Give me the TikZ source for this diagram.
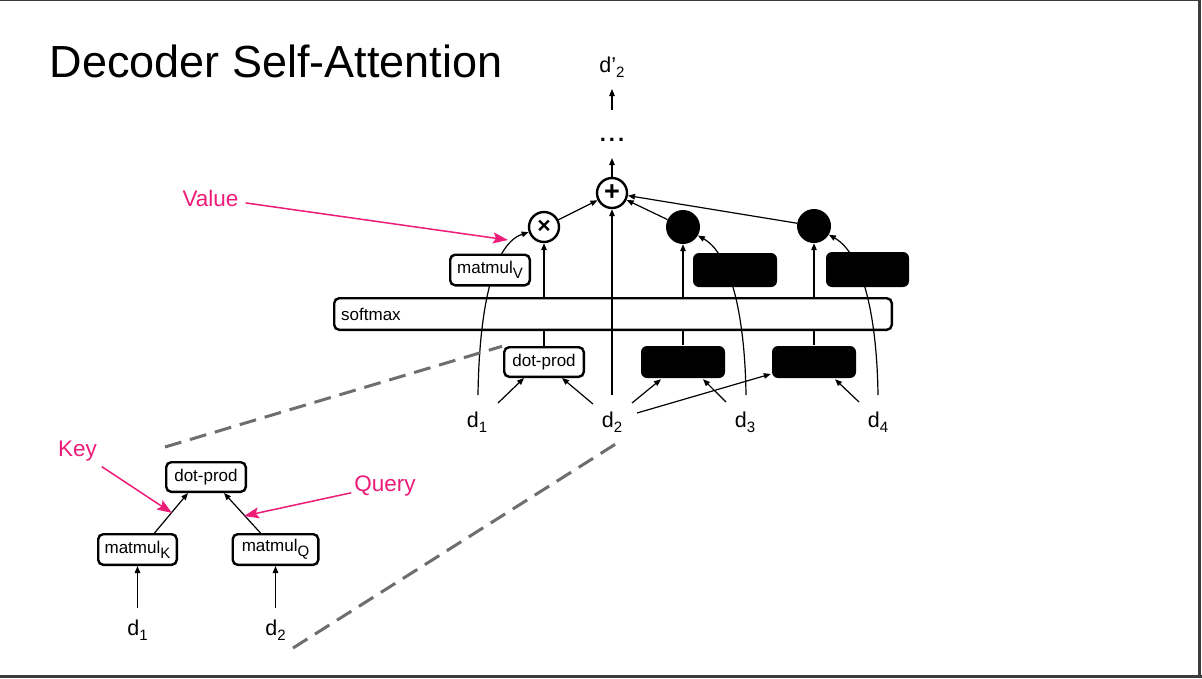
\documentclass[tikz,border=0pt]{standalone}
\usepackage{fontspec}
\setmainfont{Liberation Sans}
\usetikzlibrary{arrows.meta,calc}
\definecolor{hotpink}{RGB}{236,28,120}
\definecolor{dashgray}{RGB}{110,110,110}
\definecolor{framegray}{RGB}{60,60,60}
\newcommand\lsub[1]{\raisebox{-5pt}{\fontsize{15}{15}\selectfont #1}}
\begin{document}
\begin{tikzpicture}[x=1pt,y=-1pt,
  box/.style={draw, line width=2.4pt, rounded corners=5pt, inner sep=0pt, outer sep=1.2pt,
    font=\fontsize{17}{19}\selectfont, fill=white, minimum height=30.6pt},
  blackbox/.style={fill=black, rounded corners=6pt, inner sep=0pt, outer sep=1.2pt,
    minimum width=84pt, minimum height=32pt},
  circ/.style={circle, draw, line width=2.4pt, fill=white, inner sep=0pt, outer sep=1.2pt, minimum size=30pt},
  blackcirc/.style={circle, fill=black, inner sep=0pt, minimum size=34pt},
  lab/.style={font=\fontsize{21.5}{24}\selectfont, inner sep=0pt},
  pinklab/.style={font=\fontsize{22.5}{26}\selectfont, text=hotpink, inner sep=3pt},
  arr/.style={line width=1.2pt, -{Triangle[length=7pt,width=5.5pt]}},
  conn/.style={line width=1.2pt},
  pinkarr/.style={draw=hotpink, line width=1.5pt, -{Stealth[length=15pt,width=11pt,inset=3pt]}},
  zoomdash/.style={draw=dashgray, line width=3pt, dash pattern=on 17pt off 9pt}
]
\useasboundingbox (0,0) rectangle (1202,678);
\fill[white] (0,0) rectangle (1202,678);
% frame
\draw[framegray, line width=1.2pt] (0,0.6) -- (1200,0.6);
\draw[framegray, line width=3pt] (1199.5,0) -- (1199.5,678);
\draw[framegray, line width=3pt] (0,676.5) -- (1202,676.5);

% title
\node[anchor=base west, font=\fontsize{45}{50}\selectfont, inner sep=0pt] (title) at (49.5,77) {Decoder Self-Attention};

% labels
\node[lab, anchor=base] (dp2) at (612,72) {d’\lsub{2}};
\node[lab, font=\fontsize{22}{24}\selectfont\bfseries, anchor=base] (dots) at (612,141.5) {.\hspace{3pt}.\hspace{3pt}.};
\node[lab, anchor=base] (d1) at (477,427) {d\lsub{1}};
\node[lab, anchor=base] (d2) at (612,427) {d\lsub{2}};
\node[lab, anchor=base] (d3) at (745,427) {d\lsub{3}};
\node[lab, anchor=base] (d4) at (878,427) {d\lsub{4}};

% circles
\node[circ, font=\fontsize{27}{27}\selectfont\bfseries] (plus) at (612,193) {+};
\node[circ, font=\fontsize{23}{23}\selectfont\bfseries] (times) at (544,227) {×};
\node[blackcirc] (bc1) at (683,227) {};
\node[blackcirc] (bc2) at (814,226) {};

% softmax
\node[box, fill=none, minimum height=31.6pt, inner xsep=7pt, text width=543.6pt, align=left] (softmax) at (613,314) {softmax};

% bottom boxes
\node[box, minimum width=79.6pt, minimum height=29.6pt] (dotprod) at (544,362) {dot-prod};
\node[blackbox] (bb1) at (683,362) {};
\node[blackbox] (bb2) at (814,362) {};

% connections bottom
\draw[arr] ([xshift=21pt,yshift=24pt]d1.base) -- ([xshift=-20pt]dotprod.south);
\draw[arr] ([xshift=-19pt,yshift=23pt]d2.base) -- ([xshift=18pt]dotprod.south);
\draw[arr] ([xshift=20pt,yshift=24pt]d2.base) -- ([xshift=-22pt]bb1.south);
\draw[arr] ([xshift=-19pt,yshift=25pt]d3.base) -- ([xshift=20pt]bb1.south);
\draw[arr] ([xshift=25pt,yshift=14pt]d2.base) -- ([yshift=-12pt]bb2.west);
\draw[arr] ([xshift=-19pt,yshift=25pt]d4.base) -- ([xshift=21pt]bb2.south);

% vertical links through softmax
\draw[conn] (dotprod.north) -- (dotprod.north |- softmax.south);
\draw[arr] (times.south |- softmax.north) -- (times.south);
\draw[conn] (bb1.north) -- (bb1.north |- softmax.south);
\draw[arr] (bc1.south |- softmax.north) -- (bc1.south);
\draw[conn] (bb2.north) -- (bb2.north |- softmax.south);
\draw[arr] (bc2.south |- softmax.north) -- (bc2.south);
\draw[arr] ([yshift=32pt]d2.base) -- (plus.south);

% curves
\draw[arr] ([xshift=1pt,yshift=32pt]d1.base) .. controls (479,320) and (490,245) .. (times);
\draw[arr] ([xshift=1pt,yshift=32pt]d3.base) .. controls (745,320) and (732,255) .. (bc1);
\draw[arr] ([yshift=32pt]d4.base) .. controls (877,320) and (864,255) .. (bc2);

% top boxes (cover curves)
\node[box, minimum width=79.6pt] (matV) at (490,270) {matmul\lsub{V}};
\node[blackbox, minimum height=34pt] (tb1) at (735,270) {};
\node[blackbox, minimum width=83pt, minimum height=35pt] (tb2) at (867.5,269.5) {};

% to plus
\draw[arr] (times) -- (plus);
\draw[arr] (bc1) -- (plus);
\draw[arr] (bc2) -- (plus);
\draw[arr] (plus.north) -- ([yshift=-16.5pt]dots.base);
\draw[arr] ([yshift=31.5pt]dots.base) -- ([yshift=-17pt]dp2.base);

% small diagram
\node[box, minimum width=78.6pt] (matK) at (137.5,549.5) {matmul\lsub{K}};
\node[box, minimum width=85.6pt] (matQ) at (275.5,549.5) {matmul\lsub{Q}};
\node[box, minimum width=79.6pt, minimum height=29.6pt] (sdot) at (206,477) {dot-prod};
\node[lab, anchor=base] (sd1) at (137.5,635) {d\lsub{1}};
\node[lab, anchor=base] (sd2) at (275.5,635) {d\lsub{2}};
\draw[arr] ([yshift=27pt]sd1.base) -- (matK.south);
\draw[arr] ([yshift=27pt]sd2.base) -- (matQ.south);
\draw[arr] ([xshift=17pt]matK.north) -- ([xshift=-18pt]sdot.south);
\draw[arr] ([xshift=-15pt]matQ.north) -- ([xshift=18pt]sdot.south);

% pink annotations
\node[pinklab, anchor=base] (key) at (77.5,456) {Key};
\node[pinklab, anchor=base] (query) at (385,491) {Query};
\node[pinklab, anchor=base] (value) at (210.5,206) {Value};
\coordinate (keytip) at (172,513);
\coordinate (querytip) at (244,516);
\coordinate (valuetip) at (508,240);
\draw[pinkarr, shorten <=5pt] (key) -- (keytip);
\draw[pinkarr] (query) -- (querytip);
\draw[pinkarr, shorten <=4pt] (value) -- (valuetip);

% zoom dashes
\coordinate (zupper) at (165,447);
\coordinate (zlower) at (293,648);
\coordinate (zlowerend) at (622,440);
\draw[zoomdash, shorten >=1pt] (zupper) -- (dotprod.north west);
\draw[zoomdash] (zlower) -- (zlowerend);
\end{tikzpicture}
\end{document}
